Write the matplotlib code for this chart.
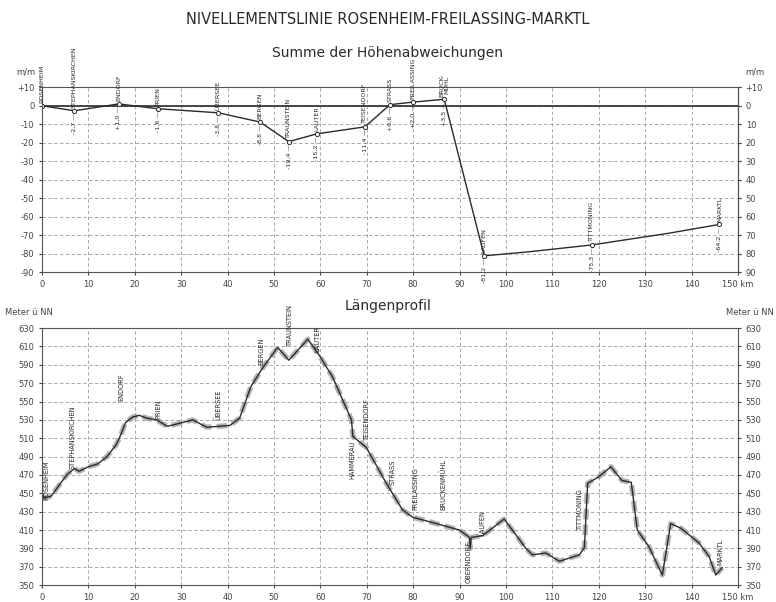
import matplotlib.pyplot as plt

# Summe der Hoehenabweichungen (km, mm)
st_km = [0, 7, 16.5, 25, 38, 47, 53.2, 59.2, 69.6, 75, 80, 86.7, 95.3, 118.5, 146]
st_mm = [0, -2.7, 1.0, -1.6, -3.8, -8.8, -19.4, -15.2, -11.4, 0.6, 2.0, 3.5, -81.2, -75.3, -64.2]
st_name = ["ROSENHEIM", "STEPHANSKIRCHEN", "ENDORF", "PRIEN", "ÜBERSEE", "BERGEN",
           "TRAUNSTEIN", "LAUTER", "TEISENDORF", "STRASS", "FREILASSING", "BRUCK-\nMÜHL",
           "LAUFEN", "TITTMONING", "MARKTL"]
line_km = [0, 7, 16.5, 25, 38, 47, 53.2, 59.2, 69.6, 75, 80, 86.7, 95.3, 105, 118.5, 135, 146]
line_mm = [0, -2.7, 1.0, -1.6, -3.8, -8.8, -19.4, -15.2, -11.4, 0.6, 2.0, 3.5, -81.2, -79, -75.3, -69, -64.2]

# Laengenprofil (km, Meter ue. NN)
pr_km = [0, 0.6, 2, 4, 5.5, 7, 8, 10, 12, 14, 16, 17, 18, 19.5, 21, 22.5, 24.7, 27, 31, 32.5,
         35.5, 40.5, 42.6, 45, 47.6, 50.8, 53.2, 57.3, 59.8, 62.6, 66.7, 67, 69.9, 74.2,
         77.7, 79.9, 85, 90, 92.1, 92.3, 92.5, 95, 99.6, 104.3, 105.7, 108.6, 111.5, 115.8,
         116.9, 117.6, 120, 122.6, 125, 127, 128.3, 130.8, 133.7, 135.5, 137.7, 141.6,
         143.8, 145.2, 146.6]
pr_m = [448, 445, 447, 461, 471, 477, 474, 479, 482, 490, 503, 514, 527, 533, 535, 532, 530,
        523, 528, 530, 522, 524, 532, 566, 587, 609, 595, 618, 600, 577, 530, 512, 500, 461,
        432, 424, 417, 410, 402, 390, 402, 404, 422, 390, 383, 385, 376, 383, 391, 461, 468,
        479, 464, 462, 410, 392, 361, 417, 412, 396, 381, 361, 369]
lab_name = ["ROSENHEIM", "STEPHANSKIRCHEN", "ENDORF", "PRIEN", "ÜBERSEE", "BERGEN",
            "TRAUNSTEIN", "LAUTER", "HAMMERAU", "TEISENDORF", "STRASS", "FREILASSING",
            "BRUCKENMÜHL", "OBERNDORF", "LAUFEN", "TITTMONING", "MARKTL"]
lab_km = [1, 6.5, 17.2, 25, 38, 47.3, 53.4, 59.4, 67, 70, 75.5, 80.5, 86.5, 92, 95, 116, 146.3]
lab_m = [443, 477, 551, 531, 530, 590, 611, 604, 508, 508, 459, 432, 432, 398, 404, 410, 372]
lab_up = [True, True, True, True, True, True, True, True, False, True, True, True, True,
          False, True, True, True]

ink = "#2a2a2a"
plt.rcParams['font.family'] = ['DejaVu Sans']
fig = plt.figure(figsize=(7.76, 6.02), dpi=100)

fig.text(0.5, 0.968, "NIVELLEMENTSLINIE ROSENHEIM-FREILASSING-MARKTL", ha='center', va='center',
         fontsize=10.5, color=ink)
fig.text(0.5, 0.912, "Summe der Höhenabweichungen", ha='center', va='center', fontsize=10, color=ink)
fig.text(0.5, 0.492, "Längenprofil", ha='center', va='center', fontsize=10, color=ink)


def style(ax):
    ax.grid(True, color='#999999', linestyle=(0, (4, 3)), linewidth=0.6)
    for s in ax.spines.values():
        s.set_color('#555555')
        s.set_linewidth(0.8)
    ax.tick_params(labelsize=6, colors='#444444', length=2, right=True, labelright=True)


ax1 = fig.add_axes([0.0541, 0.548, 0.8969, 0.307])
style(ax1)
ax1.set_xlim(0, 150)
ax1.set_ylim(-90, 10)
ax1.set_xticks(range(0, 151, 10))
ax1.set_xticklabels([str(v) for v in range(0, 141, 10)] + ["150 km"])
ax1.set_yticks(range(-90, 11, 10))
ax1.set_yticklabels([("+10" if v > 0 else ("0" if v == 0 else str(v))) for v in range(-90, 11, 10)])
ax1r = ax1.secondary_yaxis('right')
ax1r.set_yticks(range(-90, 11, 10))
ax1r.set_yticklabels([("+10" if v > 0 else str(abs(v))) for v in range(-90, 11, 10)])
ax1r.tick_params(labelsize=6, colors='#444444', length=2)
ax1.tick_params(labelright=False)
ax1.axhline(0, color=ink, linewidth=1.2)
ax1.plot(line_km, line_mm, color=ink, linewidth=1.0)
ax1.plot(st_km, st_mm, 'o', mfc='white', mec=ink, ms=3, mew=0.7)
for k, v, n in zip(st_km, st_mm, st_name):
    ax1.text(k, v + 1.5, n, rotation=90, ha='center', va='bottom', fontsize=4.6, color=ink,
             clip_on=False, linespacing=0.9)
    if k > 0:
        ax1.text(k, v - 1.5, ("%+.1f —" % v).replace('.', ','), rotation=90, ha='center',
                 va='top', fontsize=4.6, color=ink)
ax1.text(-0.01, 1.07, "m/m", transform=ax1.transAxes, ha='right', fontsize=6, color='#444444')
ax1.text(1.01, 1.07, "m/m", transform=ax1.transAxes, ha='left', fontsize=6, color='#444444')

ax2 = fig.add_axes([0.0541, 0.028, 0.8969, 0.427])
style(ax2)
ax2.set_xlim(0, 150)
ax2.set_ylim(350, 630)
ax2.set_xticks(range(0, 151, 10))
ax2.set_xticklabels([str(v) for v in range(0, 141, 10)] + ["150 km"])
ax2.set_yticks(range(350, 631, 20))
ax2.plot(pr_km, pr_m, color='#a0a0a0', linewidth=3.8, linestyle=(0, (2, 1)), alpha=0.8)
ax2.plot(pr_km, pr_m, color=ink, linewidth=1.0)
for k, m, n, up in zip(lab_km, lab_m, lab_name, lab_up):
    ax2.text(k, m, n, rotation=90, ha='center', va='bottom' if up else 'top', fontsize=4.8,
             color=ink, clip_on=False)
fig.text(0.007, 0.477, "Meter ü NN", ha='left', fontsize=6, color='#444444')
fig.text(0.997, 0.477, "Meter ü NN", ha='right', fontsize=6, color='#444444')

fig.savefig("out.png", dpi=100)
